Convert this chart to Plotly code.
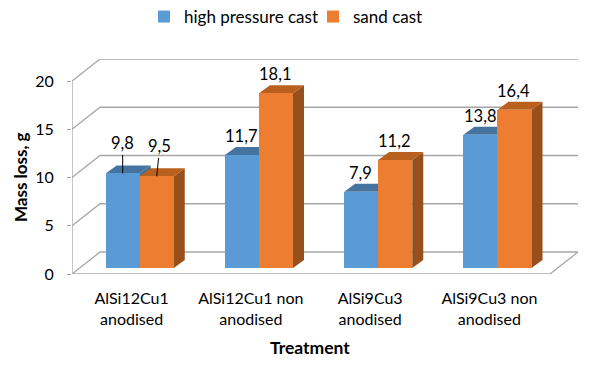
import plotly.graph_objects as go

categories = ["AlSi12Cu1<br>anodised", "AlSi12Cu1 non<br>anodised", "AlSi9Cu3<br>anodised", "AlSi9Cu3 non<br>anodised"]
high_pressure = [9.8, 11.7, 7.9, 13.8]
sand = [9.5, 18.1, 11.2, 16.4]
y_ticks = [0, 5, 10, 15, 20]

FONT = "Lato, Carlito, sans-serif"
GRID = "#A6A6A6"
BLUE, BLUE_TOP, BLUE_SIDE = "#5B9BD5", "#44749F", "#3F6E99"
ORANGE, ORANGE_TOP, ORANGE_SIDE = "#ED7D31", "#B9601F", "#97501C"

# plot area in pixels
L, R, T, B = 72, 578, 59, 274


def px(x):
    return (x - L) / (R - L)


def py(y):
    return (B - y) / (B - T)


# scene geometry in data units (one category = 1 on x)
X_MAX, Y_MAX = 4.243, 22.28
WALL_DX, WALL_DY = 0.235, 2.28
BAR_DX, BAR_DY = 0.0922, 0.83
BASE = 0.62
BAR_W = 0.2855
POS_BLUE, POS_ORANGE = 0.425, 0.7105

shapes = []


def line(points):
    path = "M" + " L".join(f"{x},{y}" for x, y in points)
    shapes.append(dict(type="path", path=path, xref="x", yref="y", layer="below",
                       line=dict(color=GRID, width=1.3), fillcolor="rgba(0,0,0,0)"))


def face(points, color):
    path = "M" + " L".join(f"{x},{y}" for x, y in points) + " Z"
    shapes.append(dict(type="path", path=path, xref="x", yref="y", layer="below",
                       line=dict(width=0), fillcolor=color))


for v in y_ticks:
    line([(0, v), (WALL_DX, v + WALL_DY), (X_MAX, v + WALL_DY)])
line([(0, 0), (0, 20)])
line([(0, 0), (X_MAX - WALL_DX, 0), (X_MAX, WALL_DY)])

x_blue = [i + POS_BLUE for i in range(len(categories))]
x_orange = [i + POS_ORANGE for i in range(len(categories))]


def extrude(xs, values, top_color, side_color):
    for xc, v in zip(xs, values):
        l, r, t = xc - BAR_W / 2, xc + BAR_W / 2, v + BASE
        face([(r, BASE), (r + BAR_DX, BASE + BAR_DY), (r + BAR_DX, t + BAR_DY), (r, t)], side_color)
        face([(l, t), (r, t), (r + BAR_DX, t + BAR_DY), (l + BAR_DX, t + BAR_DY)], top_color)


extrude(x_blue, high_pressure, BLUE_TOP, BLUE_SIDE)
extrude(x_orange, sand, ORANGE_TOP, ORANGE_SIDE)

fig = go.Figure()
fig.add_bar(x=x_blue, y=high_pressure, base=BASE, width=BAR_W, name="high pressure cast",
            marker=dict(color=BLUE, line=dict(width=0)))
fig.add_bar(x=x_orange, y=sand, base=BASE, width=BAR_W, name="sand cast",
            marker=dict(color=ORANGE, line=dict(width=0)))

annotations = []
label_font = dict(family=FONT, size=16.5, color="#000000")


def label(x, v):
    return dict(x=x - 0.008, y=v + BASE, xref="x", yref="y", text=f"{v}".replace(".", ","),
                showarrow=False, yanchor="middle", yshift=19, font=label_font)


for xs, vals in ((x_blue, high_pressure), (x_orange, sand)):
    for i, (x, v) in enumerate(zip(xs, vals)):
        if i > 0:
            annotations.append(label(x, v))
# the two first labels sit higher, with leader lines
annotations.append(dict(x=x_blue[0], y=high_pressure[0] + BASE, xref="x", yref="y",
                        text=f"{high_pressure[0]}".replace(".", ","), font=label_font,
                        showarrow=True, arrowhead=0, arrowwidth=1, arrowcolor="#000000",
                        ax=0, ay=-30, standoff=0))
annotations.append(dict(x=x_orange[0], y=sand[0] + BASE, xref="x", yref="y",
                        text=f"{sand[0]}".replace(".", ","), font=label_font,
                        showarrow=True, arrowhead=0, arrowwidth=1, arrowcolor="#000000",
                        ax=3, ay=-30, standoff=0))
annotations.append(dict(x=px(20), y=py(177), xref="paper", yref="paper", text="<b>Mass loss, g</b>",
                        xanchor="center", yanchor="middle",
                        textangle=-90, showarrow=False, font=dict(family=FONT, size=17, color="#000000")))
annotations.append(dict(x=px(310), y=py(347), xref="paper", yref="paper", text="<b>Treatment</b>",
                        xanchor="center", yanchor="middle",
                        showarrow=False, font=dict(family=FONT, size=17.5, color="#000000")))

fig.update_layout(
    width=593, height=366, autosize=False,
    margin=dict(l=L, r=593 - R, t=T, b=366 - B, pad=0, autoexpand=False),
    paper_bgcolor="white", plot_bgcolor="white",
    barmode="overlay", bargap=0,
    shapes=shapes, annotations=annotations,
    font=dict(family=FONT, size=16, color="#000000"),
    legend=dict(orientation="h", x=px(144), xanchor="left", y=py(-1), yanchor="top",
                font=dict(family=FONT, size=17, color="#000000"), bgcolor="rgba(0,0,0,0)",
                traceorder="normal", entrywidth=124, entrywidthmode="pixels"),
    xaxis=dict(range=[0, X_MAX], tickmode="array", tickvals=[i + 0.5 for i in range(len(categories))],
               ticktext=categories, ticks="", showgrid=False, zeroline=False, showline=False,
               ticklabelstandoff=13, fixedrange=True),
    yaxis=dict(range=[0, Y_MAX], tickmode="array", tickvals=y_ticks, ticks="outside", ticklen=4,
               tickcolor=GRID, tickwidth=1.3, showgrid=False, zeroline=False, showline=False,
               ticklabelstandoff=10, fixedrange=True),
)

fig.write_html("out.html", post_script="document.body.style.margin='0';",
               config={"displayModeBar": False})
